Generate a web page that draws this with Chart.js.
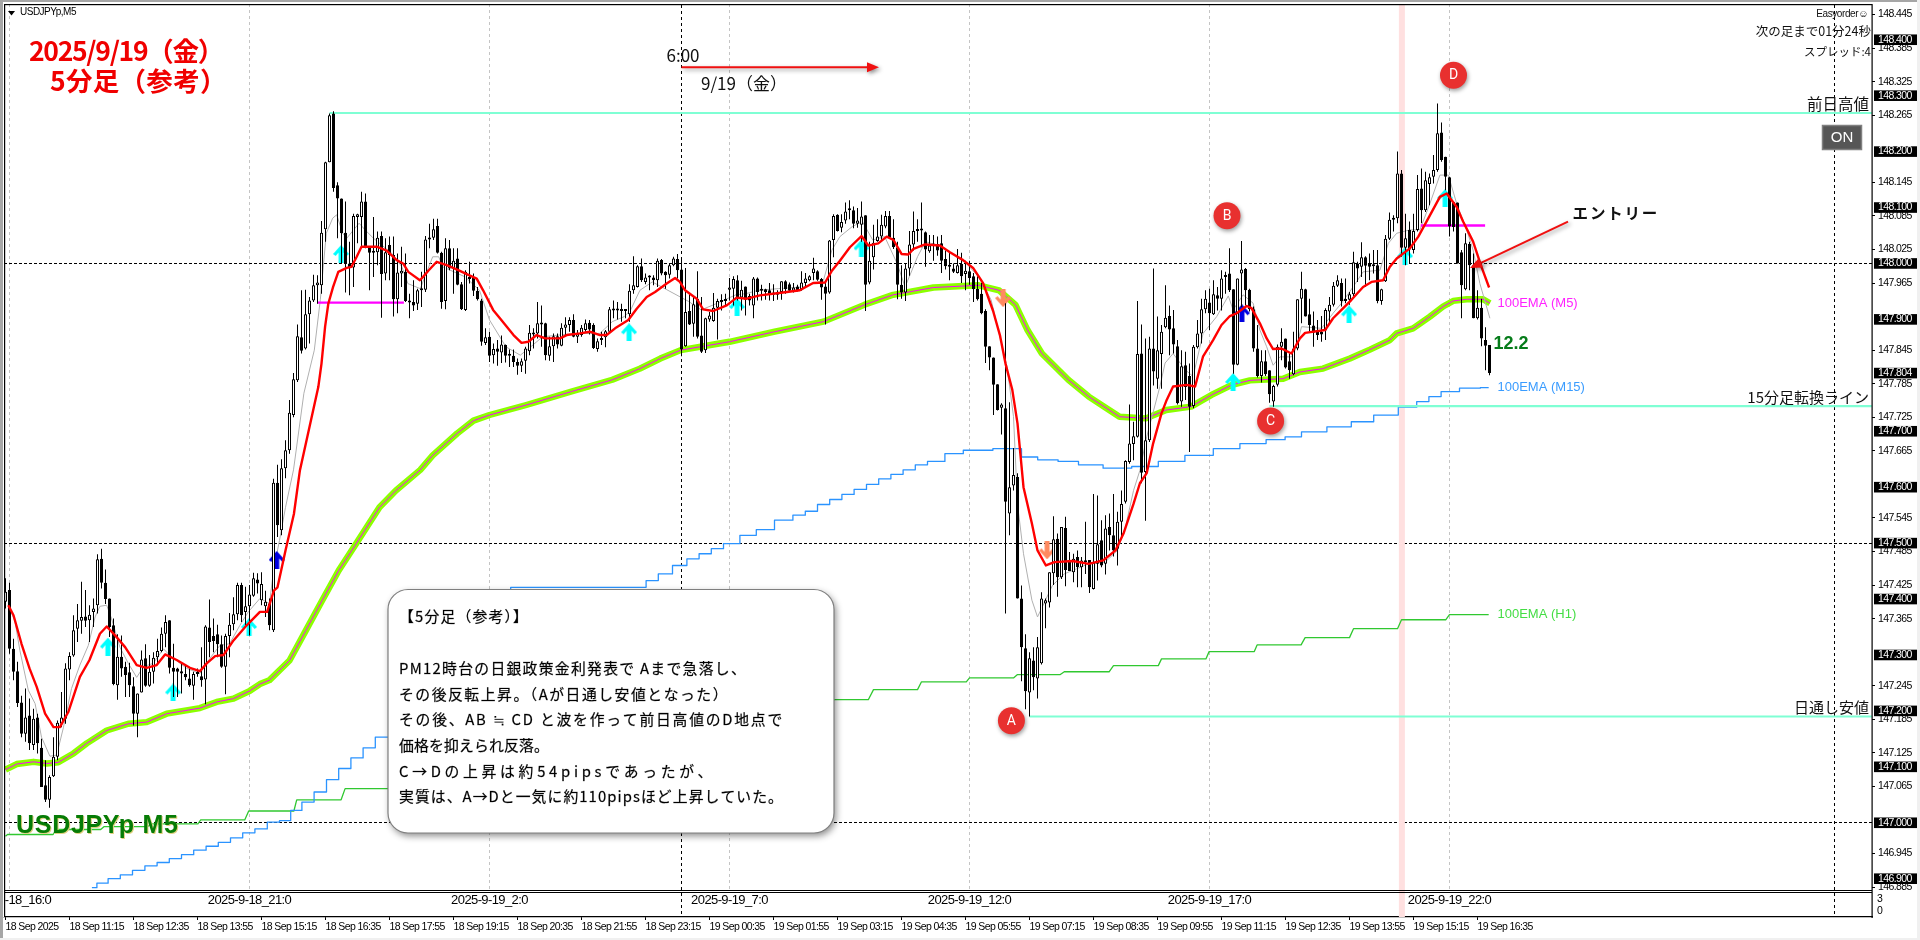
<!DOCTYPE html>
<html lang="ja"><head><meta charset="utf-8"><title>USDJPYp M5</title>
<style>html,body{margin:0;padding:0;background:#fff;overflow:hidden}canvas{display:block}</style>
<script src="https://cdn.jsdelivr.net/npm/chart.js@4"></script>
</head><body><canvas id="c" width="1920" height="940"></canvas>
<script>
// ---------- candle values (one per 5-minute bar, oldest first) ----------
const opens=[
147.395,147.416,147.311,147.271,147.215,147.159,147.192,147.139,147.188,147.134,
147.067,147.041,147.083,147.118,147.177,147.186,147.274,147.299,147.347,147.361,
147.369,147.362,147.377,147.389,147.472,147.429,147.401,147.353,147.246,147.297,
147.279,147.269,147.244,147.195,147.233,147.294,147.245,147.270,147.296,147.307,
147.338,147.362,147.277,147.276,147.271,147.266,147.258,147.245,147.267,147.262,
147.256,147.349,147.334,147.337,147.319,147.279,147.334,147.355,147.373,147.425,
147.377,147.387,147.406,147.435,147.398,147.387,147.392,147.344,147.608,147.523,
147.634,147.666,147.729,147.791,147.868,147.848,147.909,147.934,147.961,147.961,
148.061,148.181,148.268,148.140,148.116,148.055,148.000,147.993,148.083,148.083,
148.111,148.028,148.022,148.020,148.049,147.982,148.033,148.015,147.936,147.982,
147.985,147.934,147.931,147.928,147.954,147.953,148.043,148.046,148.067,148.019,
147.933,148.027,147.991,148.009,147.963,147.917,147.976,147.976,147.951,147.934,
147.858,147.869,147.836,147.848,147.841,147.854,147.837,147.835,147.824,147.817,
147.826,147.843,147.873,147.875,147.893,147.893,147.835,147.852,147.870,147.853,
147.885,147.890,147.899,147.869,147.872,147.881,147.894,147.890,147.847,147.863,
147.868,147.878,147.918,147.918,147.918,147.916,147.909,147.952,147.958,147.995,
147.967,147.976,147.975,147.970,148.006,147.985,147.980,147.997,148.008,147.989,
147.852,147.915,147.892,147.937,147.871,147.845,147.900,147.897,147.921,147.934,
147.933,147.953,147.955,147.970,147.939,147.959,147.942,147.925,147.973,147.954,
147.954,147.952,147.948,147.944,147.949,147.968,147.963,147.951,147.959,147.954,
147.965,147.970,147.983,147.986,147.972,147.959,147.948,148.042,148.087,148.064,
148.077,148.095,148.095,148.071,148.069,148.086,147.966,148.011,148.040,148.048,
148.066,148.085,148.046,148.029,147.962,147.948,147.991,148.034,148.058,148.060,
148.056,148.022,148.034,148.035,148.036,148.008,147.995,147.991,147.983,147.999,
147.981,147.986,147.977,147.955,147.946,147.915,147.852,147.832,147.784,147.742,
147.741,147.553,147.603,147.618,147.401,147.312,147.233,147.290,147.258,147.285,
147.392,147.394,147.446,147.508,147.439,147.527,147.469,147.448,147.475,147.457,
147.469,147.470,147.418,147.463,147.505,147.463,147.529,147.514,147.490,147.538,
147.574,147.645,147.677,147.690,147.839,147.627,147.684,147.848,147.794,147.838,
147.886,147.906,147.884,147.852,147.753,147.818,147.799,147.745,147.850,147.875,
147.918,147.930,147.909,147.943,147.937,147.979,147.982,147.954,147.819,147.982,
147.990,147.953,147.918,147.848,147.799,147.825,147.809,147.753,147.783,147.851,
147.866,147.825,147.802,147.848,147.937,147.954,147.909,147.889,147.878,147.878,
147.880,147.914,147.926,147.960,147.965,147.936,147.935,147.945,148.000,147.994,
148.011,148.001,147.997,147.997,147.933,147.968,148.044,148.078,148.081,148.161,
148.028,148.060,148.024,148.060,148.134,148.095,148.142,148.155,148.167,148.234,
148.191,148.154,148.110,148.109,148.020,147.954,148.035,147.997,147.902,147.921,
147.863,147.854];
const highs=[
147.437,147.429,147.329,147.288,147.227,147.240,147.222,147.204,147.195,147.150,
147.112,147.085,147.153,147.183,147.234,147.285,147.305,147.371,147.391,147.431,
147.416,147.389,147.401,147.480,147.490,147.453,147.401,147.365,147.337,147.335,
147.288,147.286,147.260,147.231,147.308,147.319,147.300,147.305,147.329,147.349,
147.371,147.362,147.320,147.277,147.285,147.282,147.276,147.270,147.276,147.314,
147.353,147.399,147.365,147.354,147.335,147.338,147.375,147.403,147.429,147.429,
147.422,147.425,147.447,147.446,147.448,147.415,147.401,147.615,147.640,147.650,
147.684,147.756,147.804,147.891,147.952,147.953,147.940,147.980,147.979,148.076,
148.182,148.268,148.272,148.145,148.116,148.111,148.039,148.089,148.089,148.128,
148.125,148.030,148.083,148.057,148.057,148.045,148.048,148.048,148.018,148.030,
148.018,147.946,147.970,147.955,147.985,148.049,148.071,148.080,148.080,148.021,
148.045,148.042,148.027,148.027,147.967,147.988,148.003,147.982,147.958,147.937,
147.884,147.878,147.857,147.863,147.871,147.855,147.846,147.846,147.830,147.830,
147.851,147.890,147.884,147.931,147.925,147.894,147.869,147.875,147.875,147.893,
147.904,147.904,147.909,147.881,147.890,147.900,147.899,147.893,147.866,147.878,
147.881,147.922,147.934,147.931,147.928,147.918,147.963,148.013,147.997,148.009,
147.982,147.979,147.979,148.009,148.008,147.986,148.001,148.012,148.017,148.009,
147.992,147.946,147.940,147.986,147.940,147.903,147.913,147.947,147.937,147.945,
147.946,147.974,147.977,147.979,147.969,147.959,147.946,147.976,147.975,147.962,
147.955,147.965,147.963,147.952,147.968,147.970,147.966,147.965,147.962,147.986,
147.983,147.979,148.010,147.988,147.974,147.968,148.042,148.088,148.088,148.088,
148.109,148.113,148.102,148.099,148.111,148.086,148.039,148.069,148.079,148.087,
148.094,148.094,148.079,148.039,147.997,148.000,148.058,148.093,148.079,148.109,
148.057,148.051,148.051,148.048,148.051,148.023,148.019,148.000,148.026,148.019,
148.005,148.005,147.983,147.977,147.965,147.918,147.852,147.832,147.784,147.750,
147.929,147.752,147.670,147.625,147.424,147.337,147.305,147.314,147.332,147.412,
147.401,147.448,147.548,147.517,147.529,147.547,147.484,147.481,147.487,147.475,
147.538,147.470,147.588,147.585,147.541,147.550,147.553,147.588,147.556,147.594,
147.648,147.748,147.717,147.933,147.891,147.866,147.869,147.991,147.905,147.890,
147.961,147.925,147.917,147.863,147.845,147.842,147.821,147.854,147.899,147.937,
147.952,147.955,147.970,147.958,147.988,147.985,148.027,147.954,147.973,148.040,
147.992,147.955,147.923,147.890,147.845,147.845,147.809,147.783,147.855,147.884,
147.866,147.839,147.878,147.936,147.985,147.955,147.937,147.914,147.899,147.906,
147.920,147.940,147.967,147.979,147.973,147.973,147.949,148.021,148.003,148.038,
148.013,148.018,148.024,148.024,147.955,148.051,148.091,148.086,148.200,148.167,
148.089,148.075,148.089,148.158,148.170,148.164,148.161,148.194,148.286,148.252,
148.191,148.155,148.110,148.109,148.024,148.054,148.039,148.018,147.952,147.937,
147.886,147.854];
const lows=[
147.383,147.302,147.255,147.207,147.153,147.145,147.130,147.130,147.124,147.064,
147.037,147.027,147.082,147.112,147.171,147.177,147.255,147.297,147.323,147.338,
147.350,147.323,147.350,147.374,147.419,147.391,147.332,147.246,147.220,147.261,
147.225,147.225,147.174,147.153,147.233,147.243,147.243,147.249,147.285,147.305,
147.314,147.267,147.225,147.225,147.231,147.255,147.243,147.220,147.261,147.243,
147.212,147.296,147.305,147.296,147.277,147.230,147.296,147.344,147.362,147.359,
147.353,147.335,147.404,147.410,147.389,147.368,147.344,147.341,147.511,147.514,
147.616,147.660,147.725,147.788,147.839,147.846,147.857,147.931,147.928,147.946,
148.039,148.181,148.128,148.045,148.000,147.948,147.943,147.958,148.036,148.030,
148.027,147.952,147.976,147.997,147.903,147.970,147.970,147.905,147.911,147.958,
147.931,147.902,147.915,147.917,147.922,147.949,148.027,148.042,148.018,147.919,
147.918,147.988,147.946,147.961,147.917,147.915,147.964,147.942,147.934,147.853,
147.854,147.824,147.821,147.817,147.822,147.823,147.815,147.815,147.801,147.806,
147.803,147.836,147.848,147.866,147.851,147.827,147.826,147.824,147.848,147.852,
147.872,147.878,147.868,147.858,147.869,147.878,147.873,147.847,147.842,147.854,
147.850,147.875,147.902,147.900,147.896,147.902,147.896,147.946,147.957,147.967,
147.963,147.952,147.961,147.958,147.979,147.955,147.973,147.995,147.973,147.834,
147.851,147.890,147.869,147.866,147.840,147.840,147.896,147.896,147.864,147.916,
147.925,147.934,147.925,147.934,147.916,147.907,147.925,147.902,147.934,147.934,
147.935,147.934,147.933,147.935,147.935,147.946,147.949,147.948,147.950,147.951,
147.959,147.968,147.970,147.969,147.935,147.891,147.946,148.011,148.057,148.056,
148.071,148.079,148.063,148.064,148.039,147.915,147.963,147.989,148.039,148.039,
148.063,148.045,148.026,147.936,147.937,147.933,147.978,148.023,148.039,148.029,
147.994,148.019,148.005,148.014,147.983,147.989,147.970,147.983,147.982,147.965,
147.952,147.962,147.931,147.934,147.909,147.822,147.809,147.729,147.737,147.694,
147.374,147.514,147.594,147.401,147.253,147.203,147.190,147.237,147.222,147.283,
147.348,147.385,147.425,147.404,147.436,147.423,147.450,147.430,147.421,147.421,
147.445,147.411,147.417,147.433,147.457,147.444,147.487,147.476,147.460,147.511,
147.571,147.642,147.648,147.689,147.607,147.540,147.681,147.782,147.776,147.776,
147.884,147.836,147.839,147.748,147.744,147.756,147.663,147.741,147.848,147.857,
147.911,147.881,147.908,147.916,147.916,147.946,147.949,147.803,147.818,147.922,
147.925,147.914,147.842,147.796,147.787,147.799,147.751,147.744,147.780,147.827,
147.812,147.794,147.800,147.845,147.893,147.905,147.878,147.851,147.863,147.860,
147.863,147.893,147.923,147.958,147.923,147.929,147.926,147.942,147.967,147.976,
147.958,147.970,147.982,147.929,147.926,147.967,148.042,148.057,148.072,148.012,
147.997,148.000,148.018,148.057,148.072,148.092,148.104,148.143,148.164,148.182,
148.131,148.048,148.057,148.000,147.902,147.952,147.952,147.902,147.900,147.852,
147.809,147.800];
const closes=[
147.413,147.311,147.270,147.214,147.159,147.188,147.142,147.186,147.142,147.064,
147.041,147.082,147.118,147.179,147.188,147.276,147.298,147.344,147.362,147.368,
147.361,147.372,147.383,147.471,147.429,147.400,147.350,147.248,147.297,147.276,
147.264,147.246,147.195,147.231,147.292,147.245,147.270,147.295,147.307,147.338,
147.359,147.277,147.270,147.270,147.267,147.260,147.246,147.266,147.266,147.255,
147.351,147.323,147.325,147.319,147.279,147.334,147.354,147.373,147.425,147.371,
147.387,147.408,147.437,147.428,147.427,147.395,147.353,147.608,147.532,147.634,
147.666,147.733,147.793,147.870,147.844,147.909,147.934,147.961,147.966,148.055,
148.181,148.265,148.135,148.116,148.054,148.000,147.993,148.085,148.088,148.111,
148.028,148.019,148.019,148.046,147.981,148.020,148.015,147.936,147.984,147.987,
147.933,147.930,147.925,147.952,147.952,148.043,148.046,148.061,148.019,147.931,
148.027,147.991,148.005,147.962,147.918,147.985,147.972,147.951,147.936,147.860,
147.868,147.835,147.847,147.842,147.855,147.835,147.835,147.824,147.817,147.825,
147.848,147.876,147.875,147.893,147.891,147.836,147.852,147.870,147.855,147.885,
147.891,147.899,147.869,147.875,147.885,147.893,147.882,147.849,147.861,147.866,
147.879,147.918,147.916,147.916,147.915,147.915,147.951,147.961,147.995,147.970,
147.975,147.975,147.970,148.005,147.982,147.979,147.997,148.009,147.988,147.846,
147.913,147.891,147.927,147.869,147.842,147.902,147.907,147.921,147.933,147.931,
147.936,147.957,147.972,147.939,147.953,147.935,147.934,147.973,147.949,147.951,
147.949,147.945,147.944,147.949,147.968,147.954,147.951,147.957,147.952,147.966,
147.973,147.977,147.991,147.971,147.957,147.946,148.041,148.085,148.058,148.074,
148.093,148.096,148.071,148.077,148.084,147.962,148.005,148.037,148.048,148.069,
148.085,148.046,148.029,147.962,147.948,147.991,148.034,148.058,148.060,148.059,
148.025,148.032,148.032,148.023,148.005,147.995,147.994,147.985,147.997,147.977,
147.987,147.974,147.954,147.936,147.911,147.851,147.832,147.783,147.738,147.748,
147.574,147.600,147.622,147.401,147.314,147.235,147.294,147.260,147.314,147.401,
147.398,147.448,147.507,147.439,147.529,147.452,147.450,147.472,147.457,147.469,
147.466,147.421,147.466,147.498,147.460,147.526,147.514,147.487,147.538,147.570,
147.647,147.678,147.691,147.838,147.626,147.684,147.848,147.807,147.845,147.878,
147.903,147.882,147.855,147.750,147.816,147.779,147.744,147.851,147.875,147.918,
147.937,147.911,147.945,147.937,147.973,147.976,147.952,147.819,147.973,147.989,
147.952,147.918,147.848,147.799,147.825,147.802,147.766,147.781,147.851,147.860,
147.814,147.809,147.848,147.936,147.955,147.905,147.890,147.876,147.872,147.873,
147.917,147.926,147.960,147.970,147.933,147.933,147.945,148.002,147.991,148.011,
147.996,147.994,147.995,147.933,147.954,148.044,148.078,148.079,148.161,148.028,
148.045,148.025,148.058,148.133,148.095,148.149,148.154,148.167,148.233,148.185,
148.155,148.066,148.065,148.000,147.961,148.036,147.997,147.902,147.921,147.866,
147.853,147.804];

// ---------- indicator lines: bar position / price pairs ----------
const redK=[0.7,2,4,6,7.8,9.9,12,13.6,15.7,18.6,21,23.6,25.3,27.4,29.9,32.8,35.3,37.8,39.9,42.8,46.1,48.6,50.3,52.4,54.5,57,60.3,63.6,65.4,67.1,68,70,72.1,73.6,78.2,79,79.9,80.7,81.9,83.2,85.3,86.5,87.8,89,92.8,95.3,97.8,99.4,100.7,103.6,104.4,105.7,107.8,110.3,113.2,115.3,117.8,119.4,121.9,123.6,127,129,130.7,132.8,134.9,138.6,140.3,143.6,146.1,148.6,150.3,152.4,155.7,157.8,160.3,162.4,165.3,167.4,168.6,169.9,172.8,174.4,176.9,180.3,182.8,185.3,188.6,194.4,198.6,201.9,204.9,206.5,208.6,211.1,214,215.7,218.2,220.3,222,224,225.7,227,229.9,233.6,236.1,239.4,241.9,244.4,246.9,248.6,250,251.7,253,254.5,256.6,258,260.1,262.2,266.8,270.8,274.4,277.5,279.5,282,283.6,285.3,286.9,289,290.3,291.9,295.3,297.4,299.4,301.9,304,306.1,307.8,310.3,311.5,313.6,315.3,316.9,319,321.5,323.6,324.9,329.9,331.9,334,336.5,339.4,341.5,344.4,346.1,347.8,351.1,353.2,356.1,358.6,360.3,362.8,364.4,366.9,369,370.9];
const redP=[147.389,147.371,147.320,147.276,147.243,147.195,147.171,147.171,147.198,147.261,147.291,147.338,147.351,147.335,147.314,147.282,147.277,147.282,147.301,147.291,147.277,147.271,147.285,147.298,147.300,147.326,147.353,147.377,147.377,147.415,147.421,147.487,147.552,147.630,147.779,147.821,147.887,147.928,147.958,147.985,147.992,147.994,148.012,148.030,148.030,148.023,148.006,148.000,147.985,147.970,147.976,147.987,148.003,147.997,147.988,147.981,147.973,147.952,147.917,147.902,147.872,147.858,147.860,147.872,147.866,147.866,147.872,147.875,147.878,147.872,147.872,147.884,147.899,147.919,147.940,147.949,147.964,147.974,147.967,147.952,147.937,147.918,147.915,147.925,147.939,147.937,147.943,147.948,147.952,147.965,147.966,147.986,148.005,148.029,148.049,148.032,148.036,148.048,148.042,148.017,148.016,148.026,148.034,148.032,148.020,148.006,147.992,147.965,147.915,147.872,147.821,147.774,147.714,147.600,147.535,147.487,147.460,147.466,147.468,147.463,147.469,147.487,147.517,147.570,147.607,147.625,147.678,147.732,147.756,147.780,147.783,147.780,147.834,147.863,147.890,147.906,147.911,147.924,147.920,147.893,147.866,147.847,147.848,147.839,147.866,147.876,147.881,147.902,147.917,147.935,147.958,147.967,147.970,147.994,148.009,148.027,148.048,148.086,148.119,148.125,148.101,148.075,148.039,147.994,147.957];
const grayK=[1.1,2.4,3.6,5.7,7.4,9,11.1,12.8,14.5,16.5,18.6,20.7,22.4,23.6,25.3,26.5,28.6,30.7,32.8,34.5,36.9,39.5,41.1,45.3,48.6,51.1,53.6,56,58.6,60.7,63.6,66,67,68.5,70,72,74.6,77.2,78.7,80.2,81.8,82.8,84.3,85.3,88.4,89.9,92,96.6,99.1,100.6,103.7,106.8,108.3,109.3,114.9,118.5,121,125.1,128.7,131.3,134.3,138.4,143.5,148.6,151.7,154.7,156.3,158.6,161.7,170.8,173.9,177,182.6,185.1,188.2,193.3,199.4,204.5,206.6,208.6,211.7,214.2,216.8,219.8,222.9,224.9,228,230,234.1,240.2,243.3,246.4,248.4,250.4,252,253,254.5,256.6,258,259.6,261.7,264.7,270.8,274.9,278,280,282,283.6,285.3,288.6,289.9,291.9,294.9,296.9,299.4,302.8,305.7,306.9,309.4,311.9,313.6,315.3,316.9,318.6,321.5,322.8,324,329,331.9,334,336.9,339.4,343.6,345.7,347.8,351.1,353.6,356.1,358.6,360.7,362.8,365.3,366.9,368.6,371.1];
const grayP=[147.383,147.359,147.308,147.237,147.213,147.153,147.119,147.121,147.171,147.240,147.282,147.317,147.368,147.387,147.389,147.365,147.314,147.285,147.260,147.279,147.285,147.311,147.299,147.276,147.267,147.294,147.317,147.320,147.353,147.377,147.401,147.392,147.451,147.505,147.564,147.631,147.768,147.845,147.935,148.054,148.081,148.087,148.054,148.045,148.072,148.060,148.045,148.018,147.994,147.964,147.955,148.012,148.012,147.994,147.976,147.952,147.899,147.851,147.836,147.851,147.869,147.872,147.875,147.875,147.896,147.905,147.917,147.952,147.967,147.932,147.917,147.926,147.944,147.946,147.952,147.955,147.958,147.970,148.024,148.048,148.066,148.075,148.042,148.048,148.000,147.958,148.012,148.039,148.030,148.000,147.976,147.935,147.875,147.815,147.726,147.570,147.481,147.398,147.368,147.392,147.424,147.445,147.463,147.466,147.487,147.529,147.594,147.630,147.690,147.780,147.822,147.839,147.810,147.798,147.875,147.905,147.942,147.917,147.944,147.929,147.881,147.851,147.818,147.833,147.833,147.851,147.887,147.884,147.911,147.929,147.958,147.985,147.988,148.036,148.054,148.060,148.060,148.107,148.158,148.158,148.107,148.060,148.024,147.964,147.902];
const ema5K=[0,2.8,7,10.3,13.2,17,20.3,25.3,30.7,35.3,40.3,48.6,52.8,57,61.1,63.6,66,71,75.1,79.2,83.3,87.4,93.5,97.6,103.7,106.8,112.9,117,121,130.2,141.5,151.7,158.6,163.7,168.8,181,192.3,204.5,214.7,221.9,232,243.3,248.4,252.5,255.5,259.1,265.7,270.8,278.5,285.1,290.2,296.4,301.5,306.6,311.1,319.4,323.6,329.4,336.1,341.1,346.1,347.8,351.9,356.1,359.4,361.9,365.3,369.4,371.1];
const ema5P=[147.095,147.105,147.109,147.106,147.108,147.124,147.142,147.165,147.177,147.180,147.195,147.205,147.216,147.222,147.236,147.248,147.255,147.290,147.344,147.398,147.451,147.496,147.564,147.594,147.631,147.657,147.696,147.719,147.729,147.747,147.771,147.792,147.812,147.830,147.845,147.860,147.878,147.896,147.926,147.944,147.957,147.961,147.952,147.926,147.881,147.839,147.792,147.762,147.726,147.723,147.738,147.744,147.765,147.783,147.791,147.794,147.806,147.812,147.830,147.846,147.863,147.875,147.884,147.905,147.923,147.933,147.936,147.936,147.929];
const ema15K=[21.6,24.1,27.2,30.2,33.3,36.4,39.4,42.5,45.5,48.6,51.7,54.7,57.8,60.8,63.9,67,70,72.6,75.6,78.7,81.8,84.8,87.9,90.9,94,158.6,161.7,164.7,168.8,171.9,174.9,178,181,186.2,189.2,195.3,198.4,201.5,204.5,207.6,210.6,213.7,216.8,219.8,222.9,225.9,229,232,237.7,241.2,252.5,255.5,260.6,265.7,270.8,278,285.1,291.3,298.4,305.5,311.7,318.6,321.2,326.8,333.9,339,345.1,351.3,354.3,357.4,360.4,366.6,370.8];
const ema15P=[146.884,146.892,146.900,146.907,146.915,146.923,146.929,146.936,146.943,146.951,146.958,146.965,146.973,146.982,146.989,147.001,147.004,147.022,147.037,147.055,147.077,147.097,147.116,147.134,147.153,147.421,147.433,147.445,147.460,147.472,147.481,147.490,147.499,147.514,147.524,147.541,147.550,147.557,147.569,147.578,147.587,147.596,147.605,147.615,147.623,147.631,147.640,147.646,147.660,147.666,147.669,147.654,147.649,147.646,147.640,147.634,147.637,147.646,147.657,147.669,147.678,147.685,147.690,147.699,147.708,147.717,147.729,147.743,147.753,147.762,147.771,147.777,147.778];
const emaH1K=[0,0.5,11.9,12.7,23.8,24.6,35.5,36.4,48.1,48.8,59.8,60.8,72.1,72.8,83.9,84.9,95.5,207.4,215.7,217,228,229,240.2,241,252,253,263.7,264.7,275.9,277,288.2,289,300.1,300.9,312.2,312.9,323.9,324.9,336,337,348,349,360.1,361,370.8];
const emaH1P=[146.976,146.979,146.979,146.988,146.988,146.993,146.993,146.998,146.998,147.005,147.005,147.021,147.021,147.041,147.041,147.061,147.061,147.220,147.220,147.238,147.238,147.252,147.252,147.259,147.259,147.265,147.265,147.270,147.270,147.281,147.281,147.293,147.293,147.306,147.306,147.318,147.318,147.331,147.331,147.347,147.347,147.363,147.363,147.372,147.372];

// ---------- horizontal levels ----------
const prevHighK=[81,466.6], prevHighP=148.269;
const m15LineK=[316,466.6], m15LineP=147.745;
const dayLowK=[256,466.6], dayLowP=147.190;
const zoneAK=[78,99.6], zoneAP=147.930;
const zoneBK=[353.8,369.9], zoneBP=148.068;

// ---------- signal arrows ----------
const cyanK=[25.6,41.9,60.9,83.9,155.9,182.9,214,306.9,335.9,349.9,359.9];
const cyanP=[147.315,147.233,147.350,148.017,147.877,147.922,148.027,147.788,147.909,148.013,148.117];
const navyK=[67.8,309.1];
const navyP=[147.470,147.911];
const coralK=[249.4,260.4];
const coralP=[147.938,147.487];

// ---------- axes ----------
const priceTicks=[148.445,148.385,148.325,148.265,148.145,148.085,148.025,147.965,147.845,147.785,147.725,147.665,147.545,147.485,147.425,147.365,147.245,147.185,147.125,147.065,146.945,146.885];
const priceBoxes=[148.4,148.3,148.2,148.1,148,147.9,147.804,147.7,147.6,147.5,147.4,147.3,147.2,147.1,147,146.9];
const dateK=[1,61,121,181,241,301,361];
const dateLabels=['2025-9-18_16:0','2025-9-18_21:0','2025-9-19_2:0','2025-9-19_7:0','2025-9-19_12:0','2025-9-19_17:0','2025-9-19_22:0'];
const timeK=[0,16,32,48,64,80,96,112,128,144,160,176,192,208,224,240,256,272,288,304,320,336,352,368];
const timeLabels=['18 Sep 2025','18 Sep 11:15','18 Sep 12:35','18 Sep 13:55','18 Sep 15:15','18 Sep 16:35','18 Sep 17:55','18 Sep 19:15','18 Sep 20:35','18 Sep 21:55','18 Sep 23:15','19 Sep 00:35','19 Sep 01:55','19 Sep 03:15','19 Sep 04:35','19 Sep 05:55','19 Sep 07:15','19 Sep 08:35','19 Sep 09:55','19 Sep 11:15','19 Sep 12:35','19 Sep 13:55','19 Sep 15:15','19 Sep 16:35'];
const xMin=-0.375, xMax=466.625, yMin=146.8789, yMax=148.4639;
const sessionK=168.9, cursorK=457, pinkK=349.1;

// ---------- text ----------
const JP="'Noto Sans CJK JP'";
const noteLines=[['【5分足（参考）】',616.7,130],['PM12時台の日銀政策金利発表で Aまで急落し、',668.3,348],['その後反転上昇。（Aが日通し安値となった）',694,330],['その後、AB ≒ CD と波を作って前日高値のD地点で',719.3,385],['価格を抑えられ反落。',745.3,150],['C→Dの上昇は約54pipsであったが、',771,317],['実質は、A→Dと一気に約110pipsほど上昇していた。',796,385]];

function pts(ks,ps){return ks.map((k,i)=>({x:k,y:Array.isArray(ps)?ps[i]:ps}));}
function arrowImg(color,down){
  const c=document.createElement('canvas');c.width=16;c.height=18;
  const g=c.getContext('2d');
  if(down){g.translate(0,18);g.scale(1,-1);}
  g.fillStyle=color;g.beginPath();
  [[8,0],[16,9],[13.5,11],[10.5,7.5],[10.5,18],[5.5,18],[5.5,7.5],[2.5,11],[0,9]].forEach((p,i)=>i?g.lineTo(p[0],p[1]):g.moveTo(p[0],p[1]));
  g.closePath();g.fill();return c;
}
function line(label,ks,ps,color,width,order,extra){
  return Object.assign({type:'line',label,data:pts(ks,ps),borderColor:color,borderWidth:width,pointRadius:0,tension:0,fill:false,order,borderJoinStyle:'round'},extra||{});
}
function marks(label,ks,ps,img){
  return {type:'line',label,data:pts(ks,ps),showLine:false,pointStyle:img,pointRadius:2,pointHoverRadius:2,pointBorderWidth:0,borderWidth:0,order:11};
}
const idx=opens.map((_,i)=>i);

const overlay={
  id:'overlay',
  beforeDraw(ch){ch.ctx.letterSpacing='-0.6px';},
  beforeDatasetsDraw(ch){
    const c=ch.ctx,xs=ch.scales.x;
    c.save();
    c.fillStyle='#ffe0e0';c.fillRect(xs.getPixelForValue(pinkK)-3,4,6,913);
    c.strokeStyle='#000';c.lineWidth=1;c.setLineDash([3,3]);
    [sessionK,cursorK].forEach(k=>{const x=Math.round(xs.getPixelForValue(k))+.5;c.beginPath();c.moveTo(x,5);c.lineTo(x,917);c.stroke();});
    c.restore();
  },
  afterDraw(ch){
    const c=ch.ctx;
    const T=(s,x,y,font,color,align,ls)=>{c.font=font;c.fillStyle=color;c.textAlign=align||'left';c.textBaseline='middle';c.letterSpacing=ls||'0px';c.fillText(s,x,y);c.letterSpacing='0px';};
    c.save();
    c.letterSpacing='0px';
    // window frame
    c.fillStyle='#a6a6a6';c.fillRect(0,0,3,940);c.fillRect(0,0,1920,2);
    c.fillStyle='#fff';c.fillRect(3,2,1,915);c.fillRect(3,2,1917,2);
    c.fillStyle='#f0f0f0';c.fillRect(0,938,1920,2);c.fillRect(1917,0,3,940);
    c.fillStyle='#000';c.fillRect(4,4,1868,1.2);c.fillRect(4,4,1.2,913);c.fillRect(4,892,1868,1);c.fillRect(1871.5,4,1.2,914);c.fillRect(4,890,1868,1);
    // red arrows
    const arrow=(x1,y1,x2,y2)=>{
      c.save();c.shadowColor='rgba(0,0,0,.4)';c.shadowBlur=4;c.shadowOffsetX=2;c.shadowOffsetY=2;
      const a=Math.atan2(y2-y1,x2-x1);
      c.strokeStyle='#f01010';c.lineWidth=2;c.beginPath();c.moveTo(x1,y1);c.lineTo(x2-8*Math.cos(a),y2-8*Math.sin(a));c.stroke();
      c.fillStyle='#f01010';c.beginPath();c.moveTo(x2,y2);
      c.lineTo(x2-12*Math.cos(a)+5*Math.sin(a),y2-12*Math.sin(a)-5*Math.cos(a));
      c.lineTo(x2-12*Math.cos(a)-5*Math.sin(a),y2-12*Math.sin(a)+5*Math.cos(a));c.closePath();c.fill();c.restore();
    };
    arrow(681.5,67.3,879,67.3);
    arrow(1568,221.7,1470,268);
    // callout
    c.save();c.shadowColor='rgba(0,0,0,.45)';c.shadowBlur=7;c.shadowOffsetX=2;c.shadowOffsetY=3;
    c.fillStyle='#fff';c.strokeStyle='#7f7f7f';c.lineWidth=1.2;c.beginPath();c.roundRect(388,589.5,446,243.5,20);c.fill();c.shadowColor='transparent';c.stroke();c.restore();
    noteLines.forEach(l=>{
      const f="14.8px "+JP;c.font=f;
      const w=c.measureText(l[0]).width;
      const ls=((l[2]-w)/l[0].length).toFixed(3)+'px';
      c.letterSpacing=ls;c.strokeStyle='rgba(0,0,0,.55)';c.lineWidth=.35;c.textAlign='left';c.textBaseline='middle';c.strokeText(l[0],399,l[1]);
      T(l[0],399,l[1],f,'#000','left',ls);
    });
    // circles
    [['A',1011.4,720.7],['B',1227,215.7],['C',1270.6,421],['D',1453.5,75.3]].forEach(m=>{
      c.save();c.shadowColor='rgba(0,0,0,.4)';c.shadowBlur=4;c.shadowOffsetX=1;c.shadowOffsetY=2;
      c.fillStyle='#e8302f';c.beginPath();c.arc(m[1],m[2],13.5,0,Math.PI*2);c.fill();c.restore();
      T(m[0],m[1],m[2]+.5,"14px 'Roboto'",'#fff','center');
    });
    // titles
    T('2025/9/19（金）',29,50.5,"bold 26.5px "+JP,'#f00000','left','-1.3px');
    T('5分足（参考）',50,81,"bold 26.5px "+JP,'#f00000','left','0.3px');
    c.fillStyle='#000';c.beginPath();c.moveTo(8,11);c.lineTo(15,11);c.lineTo(11.5,15.5);c.closePath();c.fill();
    T('USDJPYp,M5',20,12.5,"10px 'Liberation Sans'",'#000','left','-0.5px');
    T('6:00',666.5,55.6,"17px "+JP,'#111');
    T('9/19（金）',701,84,"17px "+JP,'#111');
    T('USDJPYp M5',17,827.5,"bold 25px 'Liberation Sans'",'#e0d080','left','0.7px');
    T('USDJPYp M5',16,826.5,"bold 25px 'Liberation Sans'",'#067c06','left','0.7px');
    T('前日高値',1869,104,"15.5px "+JP,'#111','right');
    T('15分足転換ライン',1869,397,"15px "+JP,'#111','right');
    T('日通し安値',1869,707,"15px "+JP,'#111','right');
    T('Easyorder☺',1868,14,"10px 'Liberation Sans'",'#111','right','-0.4px');
    T('次の足まで01分24秒',1871,31,"12.5px "+JP,'#111','right');
    T('スプレッド:4',1871,51.7,"11.5px "+JP,'#111','right');
    c.fillStyle='#565656';c.fillRect(1822,125,40,25);c.strokeStyle='#808080';c.lineWidth=1.5;c.strokeRect(1822.5,125.5,39,24);
    T('ON',1842,138,"15px 'Liberation Sans'",'#fff','center');
    T('エントリー',1572.6,212.7,"bold 15.5px "+JP,'#111','left','1.8px');
    T('12.2',1493.5,344.3,"bold 18px 'Liberation Sans'",'#067c1a');
    T('100EMA (M5)',1497.5,303,"13px 'Liberation Sans'",'#ff22ff');
    T('100EMA (M15)',1497.5,387.3,"13px 'Liberation Sans'",'#3a9cff');
    T('100EMA (H1)',1497.5,614.3,"13px 'Liberation Sans'",'#44dd44');
    T('3',1877,899,"10.5px 'Liberation Sans'",'#000');
    T('0',1877,910.7,"10.5px 'Liberation Sans'",'#000');
    c.restore();
  }
};

new Chart(document.getElementById('c'),{
  type:'bar',
  plugins:[overlay],
  data:{datasets:[
    marks('cyan',cyanK,cyanP,arrowImg('#00ffff')),
    marks('navy',navyK,navyP,arrowImg('#0000e0')),
    marks('coral',coralK,coralP,arrowImg('#ff8a60',true)),
    line('100EMA (M5) band',ema5K,ema5P,'#8cff00',6.4,15),
    line('100EMA (M5)',ema5K,ema5P,'#ff00ff',1,14),
    line('gray',grayK,grayP,'#b0b0b0',1,13),
    line('100EMA (M15)',ema15K,ema15P,'#2a93ff',1.3,13,{stepped:'middle'}),
    line('100EMA (H1)',emaH1K,emaH1P,'#30c830',1.3,13),
    line('前日高値',prevHighK,prevHighP,'#7fffd4',2.2,12),
    line('15分足転換ライン',m15LineK,m15LineP,'#7fffd4',2.2,12),
    line('日通し安値',dayLowK,dayLowP,'#7fffd4',2.2,12),
    line('zoneA',zoneAK,zoneAP,'#ff00ff',2.2,10),
    line('zoneB',zoneBK,zoneBP,'#ff00ff',2.6,10),
    {type:'bar',label:'wick',order:5,grouped:false,barThickness:1,inflateAmount:0,backgroundColor:'#000',borderWidth:0,
      data:idx.map(i=>({x:i,y:[lows[i],highs[i]]}))},
    {type:'bar',label:'body',order:4,grouped:false,barThickness:3,inflateAmount:0,minBarLength:2,borderSkipped:false,borderWidth:1,borderColor:'#000',
      backgroundColor:idx.map(i=>closes[i]>=opens[i]?'#fff':'#000'),
      data:idx.map(i=>({x:i,y:[opens[i],closes[i]]}))},
    line('red',redK,redP,'#ff0000',2.4,2)
  ]},
  options:{
    responsive:false,animation:false,devicePixelRatio:1,
    layout:{padding:{left:4,top:4,right:0,bottom:0}},
    plugins:{legend:{display:false},tooltip:{enabled:false},title:{display:false}},
    events:[],
    scales:{
      x:{type:'linear',position:'bottom',min:xMin,max:xMax,weight:2,offset:false,
        afterBuildTicks:s=>{s.ticks=timeK.map(v=>({value:v}));},
        afterFit:s=>{s.height=23;s.paddingLeft=0;s.paddingRight=0;},
        border:{display:true,color:'#000',width:1.2},
        grid:{offset:false,drawOnChartArea:false,drawTicks:true,tickLength:3,tickColor:'#000',tickWidth:1},
        ticks:{autoSkip:false,maxRotation:0,minRotation:0,align:'start',padding:1,color:'#000',font:{family:"'Liberation Sans'",size:10.5},
          callback:v=>timeLabels[timeK.indexOf(v)]}
      },
      x2:{type:'linear',position:'bottom',min:xMin,max:xMax,weight:1,offset:false,
        afterBuildTicks:s=>{s.ticks=dateK.map(v=>({value:v}));},
        afterFit:s=>{s.height=26.5;s.paddingLeft=0;s.paddingRight=0;},
        border:{display:false,dash:[3,3]},
        grid:{offset:false,drawOnChartArea:true,drawTicks:false,color:'#c4c4c4',lineWidth:1},
        ticks:{autoSkip:false,maxRotation:0,minRotation:0,padding:2.5,color:'#000',font:{family:"'Liberation Sans'",size:13},
          callback:v=>dateLabels[dateK.indexOf(v)]}
      },
      y:{type:'linear',position:'right',min:yMin,max:yMax,
        afterBuildTicks:s=>{s.ticks=priceTicks.concat(priceBoxes).map(v=>({value:v}));},
        afterFit:s=>{s.width=48;s.paddingTop=0;s.paddingBottom=0;},
        border:{display:false,dash:c=>[3,2]},
        grid:{drawOnChartArea:true,drawTicks:true,tickLength:3,
          color:c=>[148,147.5,147].includes(c.tick&&c.tick.value)?'#000':'rgba(0,0,0,0)',
          tickColor:c=>priceBoxes.includes(c.tick&&c.tick.value)?'rgba(0,0,0,0)':'#000',lineWidth:1},
        ticks:{autoSkip:false,crossAlign:'near',padding:3,font:{family:"'Liberation Sans'",size:10.5},
          color:c=>priceBoxes.includes(c.tick.value)?'#fff':'#000',
          showLabelBackdrop:c=>priceBoxes.includes(c.tick.value),
          backdropColor:'#000',backdropPadding:{top:-1,bottom:-1,left:4,right:5},
          callback:v=>Number(v).toFixed(3)}
      }
    }
  }
});
</script></body></html>
